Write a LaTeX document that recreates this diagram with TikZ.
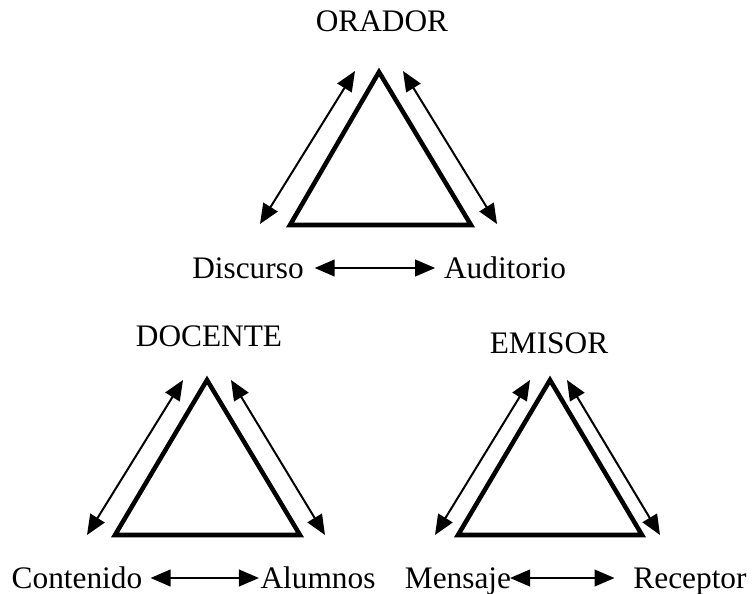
\documentclass[tikz,border=0pt]{standalone}
\usepackage{fontspec}
\setmainfont{Liberation Serif}
\usetikzlibrary{arrows.meta}
\begin{document}
\begin{tikzpicture}[x=0.75pt,y=0.75pt,yscale=-1,
  tri/.style={line width=3.4pt,line join=miter},
  dbl/.style={line width=1.5pt,>={Triangle[length=15pt,width=12.5pt]},<->},
  lbl/.style={anchor=base,inner sep=0pt,font=\fontsize{23.5}{28}\selectfont}]
\useasboundingbox (0,0) rectangle (753,593);

%Shape: Triangle [ORADOR]
\draw[tri] (379,72) -- (471,225) -- (290,225) -- cycle;
%Straight Lines [ORADOR]
\coordinate (or1) at (260,224);
\coordinate (or2) at (355,71);
\coordinate (or3) at (403,71);
\coordinate (or4) at (497,224);
\draw[dbl] (or1) -- (or2);
\draw[dbl] (or3) -- (or4);

%Shape: Triangle [DOCENTE]
\draw[tri] (207,380) -- (300,535) -- (115,535) -- cycle;
%Straight Lines [DOCENTE]
\coordinate (do1) at (87,535);
\coordinate (do2) at (183,380);
\coordinate (do3) at (231,380);
\coordinate (do4) at (325,535);
\draw[dbl] (do1) -- (do2);
\draw[dbl] (do3) -- (do4);

%Shape: Triangle [EMISOR]
\draw[tri] (550,380) -- (642,535) -- (458,535) -- cycle;
%Straight Lines [EMISOR]
\coordinate (em1) at (435,535);
\coordinate (em2) at (530,380);
\coordinate (em3) at (567,380);
\coordinate (em4) at (660,535);
\draw[dbl] (em1) -- (em2);
\draw[dbl] (em3) -- (em4);

% Text Node
\node[lbl] (orador) at (382,31) {ORADOR};
% Text Node
\node[lbl] (discurso) at (248,278) {Discurso};
% Text Node
\node[lbl] (auditorio) at (505,278) {Auditorio};
% Text Node
\node[lbl] (docente) at (209,346) {DOCENTE};
% Text Node
\node[lbl] (emisor) at (549,353) {EMISOR};
% Text Node
\node[lbl] (contenido) at (77,588) {Contenido};
% Text Node
\node[lbl] (alumnos) at (318,588) {Alumnos};
% Text Node
\node[lbl] (mensaje) at (458,588) {Mensaje};
% Text Node
\node[lbl] (receptor) at (690,588) {Receptor};

%Straight Lines [bottom]
\draw[dbl,shorten <=8pt,shorten >=6.5pt] ([yshift=-7.5pt]discurso.base east) -- ([yshift=-7.5pt]auditorio.base west);
\draw[dbl,shorten <=6pt,shorten >=1pt] ([yshift=-7.5pt]contenido.base east) -- ([yshift=-7.5pt]alumnos.base west);
\draw[dbl,shorten <=-1pt,shorten >=14pt] ([yshift=-7.5pt]mensaje.base east) -- ([yshift=-7.5pt]receptor.base west);

\end{tikzpicture}
\end{document}
